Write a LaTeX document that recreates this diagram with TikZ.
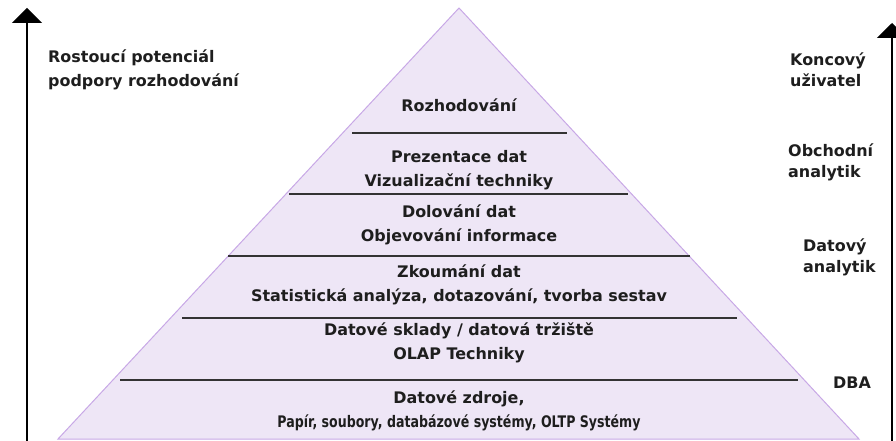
\documentclass[tikz,border=0pt]{standalone}
\usepackage{fontspec}
\setmainfont{DejaVu Sans}
\newfontfamily\narrowsans[FakeStretch=0.79]{DejaVu Sans}
\usetikzlibrary{arrows.meta}
\definecolor{layerfill}{RGB}{238,230,246}
\definecolor{layeredge}{RGB}{200,168,230}
\definecolor{inktext}{RGB}{30,30,30}
\begin{document}
\begin{tikzpicture}[x=1bp,y=-1bp,
  lbl/.style={font=\bfseries\fontsize{16}{24}\selectfont, text=inktext, inner sep=0pt},
  layertext/.style={lbl, align=center},
  sidetext/.style={lbl, align=left, anchor=west},
  roletext/.style={sidetext, font=\bfseries\fontsize{16}{21}\selectfont},
  divider/.style={draw=black!80, line width=1.2bp},
  axis/.style={draw=black, line width=1.3bp, -{Triangle[width=30bp,length=15bp]}}]
\useasboundingbox (0,0) rectangle (896,441);
\clip (0,0) rectangle (896,441);

% pyramid body
\coordinate (apex) at (459,8);
\coordinate (bl) at (58,439);
\coordinate (br) at (859,439);
\filldraw[fill=layerfill, draw=layeredge, line width=1bp] (apex) -- (br) -- (bl) -- cycle;

% layer dividers
\coordinate (d1l) at (352,133); \coordinate (d1r) at (567,133);
\coordinate (d2l) at (289,194); \coordinate (d2r) at (628,194);
\coordinate (d3l) at (228,256); \coordinate (d3r) at (690,256);
\coordinate (d4l) at (182,318); \coordinate (d4r) at (737,318);
\coordinate (d5l) at (120,380); \coordinate (d5r) at (798,380);
\draw[divider] (d1l) -- (d1r);
\draw[divider] (d2l) -- (d2r);
\draw[divider] (d3l) -- (d3r);
\draw[divider] (d4l) -- (d4r);
\draw[divider] (d5l) -- (d5r);

% layer labels
\node[layertext] (l6) at (459,105) {Rozhodování};
\node[layertext] (l5) at (459,170.5) {Prezentace dat\\Vizualizační techniky};
\node[layertext] (l4) at (459,224.5) {Dolování dat\\Objevování informace};
\node[layertext] (l3) at (459,284.5) {Zkoumání dat\\Statistická analýza, dotazování, tvorba sestav};
\node[layertext] (l2) at (459,343) {Datové sklady / datová tržiště\\OLAP Techniky};
\node[layertext] (l1) at (459,410.5) {Datové zdroje,\\{\narrowsans\bfseries Papír, soubory, databázové systémy, OLTP Systémy}};

% axes
\coordinate (ls) at (27,441); \coordinate (le) at (27,8);
\coordinate (rs) at (892,441); \coordinate (re) at (892,23);
\draw[axis] (ls) -- (le);
\draw[axis] (rs) -- (re);

% side labels
\node[sidetext] (pot) at (48,69.5) {Rostoucí potenciál\\podpory rozhodování};
\node[roletext] (user) at (790,70) {Koncový\\uživatel};
\node[roletext] (busan) at (788,162) {Obchodní\\analytik};
\node[roletext] (datan) at (803,257) {Datový\\analytik};
\node[roletext] (dba) at (833,383) {DBA};
\end{tikzpicture}
\end{document}
